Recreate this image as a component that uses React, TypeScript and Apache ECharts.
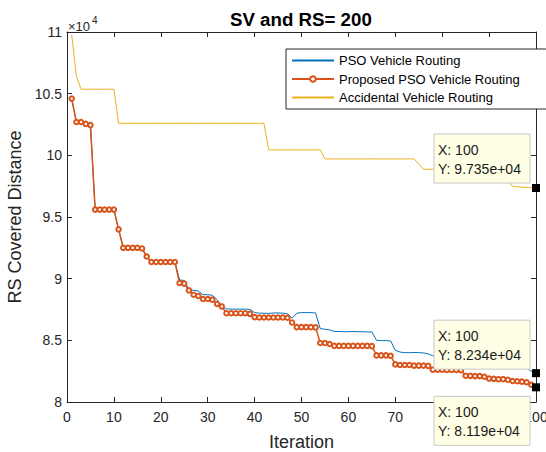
import React, { useEffect, useRef } from "react";
import * as echarts from "echarts";

const FONT = "'Liberation Sans', Arial, Helvetica, sans-serif";

const chartTitle = "SV and RS= 200";
const xName = "Iteration";
const yName = "RS Covered Distance";
const yScaleNote = "×10";
const yScaleExp = "4";
const seriesNames = ["PSO Vehicle Routing", "Proposed PSO Vehicle Routing", "Accidental Vehicle Routing"];
const seriesColors = ["#0072BD", "#D95319", "#EDB120"];

const xTicks = [0, 10, 20, 30, 40, 50, 60, 70, 80, 90, 100];
const yTicks = [8, 8.5, 9, 9.5, 10, 10.5, 11];

// values in units of 10^4
const psoRouting = [
  10.46, 10.27, 10.27, 10.255, 10.245, 9.56, 9.56, 9.56, 9.56, 9.56,
  9.4, 9.25, 9.25, 9.25, 9.25, 9.245, 9.18, 9.135, 9.135, 9.135,
  9.135, 9.135, 9.135, 8.99, 8.985, 8.91, 8.905, 8.9, 8.87, 8.87,
  8.865, 8.83, 8.775, 8.755, 8.753, 8.753, 8.753, 8.753, 8.75, 8.725,
  8.72, 8.72, 8.718, 8.722, 8.722, 8.72, 8.715, 8.68, 8.72, 8.725,
  8.725, 8.725, 8.722, 8.595, 8.59, 8.585, 8.572, 8.572, 8.57, 8.57,
  8.572, 8.57, 8.57, 8.568, 8.568, 8.5, 8.498, 8.498, 8.495, 8.42,
  8.405, 8.4, 8.4, 8.402, 8.4, 8.398, 8.39, 8.375, 8.37, 8.37,
  8.37, 8.37, 8.37, 8.37, 8.35, 8.35, 8.35, 8.35, 8.35, 8.35,
  8.33, 8.33, 8.33, 8.33, 8.32, 8.32, 8.3, 8.275, 8.25, 8.234,
];

const proposedRouting = [
  10.46, 10.27, 10.27, 10.255, 10.245, 9.56, 9.56, 9.56, 9.56, 9.56,
  9.4, 9.25, 9.25, 9.25, 9.25, 9.245, 9.18, 9.135, 9.135, 9.135,
  9.135, 9.135, 9.135, 8.965, 8.96, 8.905, 8.87, 8.86, 8.835, 8.835,
  8.83, 8.795, 8.775, 8.72, 8.72, 8.72, 8.72, 8.72, 8.715, 8.688,
  8.685, 8.685, 8.685, 8.685, 8.685, 8.685, 8.683, 8.645, 8.607, 8.607,
  8.607, 8.607, 8.605, 8.478, 8.478, 8.47, 8.455, 8.455, 8.455, 8.455,
  8.455, 8.455, 8.455, 8.455, 8.453, 8.378, 8.378, 8.378, 8.375, 8.305,
  8.3, 8.3, 8.3, 8.295, 8.295, 8.295, 8.293, 8.262, 8.262, 8.262,
  8.26, 8.26, 8.26, 8.258, 8.213, 8.212, 8.21, 8.21, 8.205, 8.19,
  8.188, 8.185, 8.185, 8.18, 8.17, 8.168, 8.165, 8.16, 8.14, 8.119,
];

const accidentalRouting = [
  10.976, 10.64, 10.536, 10.536, 10.536, 10.536, 10.536, 10.536, 10.536, 10.536,
  10.26, 10.26, 10.26, 10.26, 10.26, 10.26, 10.26, 10.26, 10.26, 10.26,
  10.26, 10.26, 10.26, 10.26, 10.26, 10.26, 10.26, 10.26, 10.26, 10.26,
  10.26, 10.26, 10.26, 10.26, 10.26, 10.26, 10.26, 10.26, 10.26, 10.26,
  10.26, 10.26, 10.044, 10.044, 10.044, 10.044, 10.044, 10.044, 10.044, 10.044,
  10.044, 10.044, 10.044, 10.044, 9.971, 9.971, 9.971, 9.971, 9.971, 9.971,
  9.971, 9.971, 9.971, 9.971, 9.971, 9.971, 9.971, 9.971, 9.971, 9.971,
  9.971, 9.971, 9.971, 9.971, 9.93, 9.887, 9.887, 9.887, 9.887, 9.887,
  9.887, 9.887, 9.887, 9.887, 9.887, 9.887, 9.887, 9.887, 9.887, 9.887,
  9.887, 9.887, 9.887, 9.8, 9.748, 9.745, 9.742, 9.74, 9.738, 9.735,
];

const iterations = psoRouting.map((_, i) => i + 1);
const allSeries = [psoRouting, proposedRouting, accidentalRouting];

function fmtExp(v: number): string {
  const s = (v * 10000).toExponential(3);
  const [m, e] = s.split("e");
  const sign = e[0] === "-" ? "-" : "+";
  const digits = e.replace(/[+-]/, "").padStart(2, "0");
  return `${m}e${sign}${digits}`;
}

export default function App() {
  const ref = useRef<HTMLDivElement>(null);
  useEffect(() => {
    if (!ref.current) return;
    const chart = echarts.init(ref.current, null, { renderer: "svg" });
    const axisLine = { show: true, onZero: false, lineStyle: { color: "#262626", width: 1 } };
    const axisTick = { show: true, inside: true, length: 5, lineStyle: { color: "#262626", width: 1 } };
    const xMin = xTicks[0], xMax = xTicks[xTicks.length - 1], xInt = xTicks[1] - xTicks[0];
    const yMin = yTicks[0], yMax = yTicks[yTicks.length - 1], yInt = yTicks[1] - yTicks[0];

    const markPoint = (arr: number[]) => ({
      symbol: "rect",
      symbolSize: 8,
      silent: true,
      itemStyle: { color: "#000", borderWidth: 0 },
      label: { show: false },
      data: [{ coord: [iterations[arr.length - 1], arr[arr.length - 1]] }],
    });

    const option: any = {
      animation: false,
      textStyle: { fontFamily: FONT },
      title: {
        text: chartTitle,
        left: 230,
        top: 10,
        padding: 0,
        textStyle: { fontSize: 18.7, fontWeight: "bold", color: "#000", fontFamily: FONT },
      },
      grid: { left: 67, right: 10, top: 32, bottom: 50, containLabel: false, outerBoundsMode: "none" },
      legend: {
        orient: "vertical",
        left: 286,
        top: 49,
        itemWidth: 42,
        itemHeight: 7,
        itemGap: 5.5,
        padding: [5, 30, 5, 5],
        backgroundColor: "#fff",
        borderColor: "#262626",
        borderWidth: 1,
        borderRadius: 0,
        selectedMode: false,
        data: [
          { name: seriesNames[0], itemStyle: { opacity: 0 } },
          { name: seriesNames[1] },
          { name: seriesNames[2], itemStyle: { opacity: 0 } },
        ],
        textStyle: { fontSize: 13, color: "#000", fontFamily: FONT },
      },
      xAxis: [
        {
          type: "value", position: "bottom", min: xMin, max: xMax, interval: xInt,
          axisLine, axisTick, splitLine: { show: false },
          axisLabel: { fontSize: 14, color: "#262626", margin: 8, fontFamily: FONT },
          name: xName, nameLocation: "middle", nameGap: 31,
          nameTextStyle: { fontSize: 18, color: "#262626", fontFamily: FONT },
        },
        {
          type: "value", position: "top", min: xMin, max: xMax, interval: xInt,
          axisLine, axisTick, splitLine: { show: false }, axisLabel: { show: false },
        },
      ],
      yAxis: [
        {
          type: "value", position: "left", min: yMin, max: yMax, interval: yInt,
          axisLine, axisTick, splitLine: { show: false },
          axisLabel: { fontSize: 14, color: "#262626", margin: 5, fontFamily: FONT },
          name: yName, nameLocation: "middle", nameGap: 32,
          nameTextStyle: { fontSize: 18, color: "#262626", fontFamily: FONT },
        },
        {
          type: "value", position: "right", min: yMin, max: yMax, interval: yInt,
          axisLine, axisTick, splitLine: { show: false }, axisLabel: { show: false },
        },
      ],
      series: [
        {
          name: seriesNames[0], type: "line", xAxisIndex: 0, yAxisIndex: 0,
          data: psoRouting.map((v, i) => [iterations[i], v]),
          symbol: "none",
          lineStyle: { color: seriesColors[0], width: 1 },
          itemStyle: { color: seriesColors[0] },
          markPoint: markPoint(psoRouting),
          z: 2,
        },
        {
          name: seriesNames[1], type: "line", xAxisIndex: 0, yAxisIndex: 0,
          data: proposedRouting.map((v, i) => [iterations[i], v]),
          symbol: "emptyCircle", symbolSize: 4.5, showSymbol: true, showAllSymbol: true,
          lineStyle: { color: seriesColors[1], width: 1.5 },
          itemStyle: { color: seriesColors[1], borderColor: seriesColors[1], borderWidth: 1 },
          markPoint: markPoint(proposedRouting),
          z: 3,
        },
        {
          name: seriesNames[2], type: "line", xAxisIndex: 0, yAxisIndex: 0,
          data: accidentalRouting.map((v, i) => [iterations[i], v]),
          symbol: "none",
          lineStyle: { color: seriesColors[2], width: 1 },
          itemStyle: { color: seriesColors[2] },
          markPoint: markPoint(accidentalRouting),
          z: 4,
        },
      ],
    };
    chart.setOption(option);

    // Data tips placed next to the last point of each series
    const tipOffsets = [
      { dy: -53 }, // PSO: above
      { dy: 9 }, // Proposed: below
      { dy: -54 }, // Accidental: above
    ];
    const graphics: any[] = [
      {
        type: "text", x: 68, y: 20, z: 50,
        style: { text: yScaleNote, fontSize: 13, fontFamily: FONT, fill: "#262626" },
      },
      {
        type: "text", x: 92, y: 15, z: 50,
        style: { text: yScaleExp, fontSize: 10, fontFamily: FONT, fill: "#262626" },
      },
    ];
    allSeries.forEach((arr, k) => {
      const lastX = iterations[arr.length - 1];
      const lastY = arr[arr.length - 1];
      const p = chart.convertToPixel({ gridIndex: 0 }, [lastX, lastY]) as number[];
      const left = p[0] - 102;
      const top = p[1] + tipOffsets[k].dy;
      graphics.push({
        type: "rect", z: 100,
        shape: { x: left, y: top, width: 96, height: 49 },
        style: { fill: "#FFFFE6", stroke: "#C8C8C8", lineWidth: 1 },
      });
      graphics.push({
        type: "text", z: 101, x: left + 4, y: top + 16,
        style: { text: `X: ${lastX}`, fontSize: 14, fontFamily: FONT, fill: "#1a1a1a", verticalAlign: "middle" },
      });
      graphics.push({
        type: "text", z: 101, x: left + 4, y: top + 35,
        style: { text: `Y: ${fmtExp(lastY)}`, fontSize: 14, fontFamily: FONT, fill: "#1a1a1a", verticalAlign: "middle" },
      });
    });
    chart.setOption({ graphic: graphics });

    return () => chart.dispose();
  }, []);
  return (
    <div
      ref={ref}
      style={{ position: "fixed", left: 0, top: 0, width: 546, height: 452, background: "#fff" }}
    />
  );
}
